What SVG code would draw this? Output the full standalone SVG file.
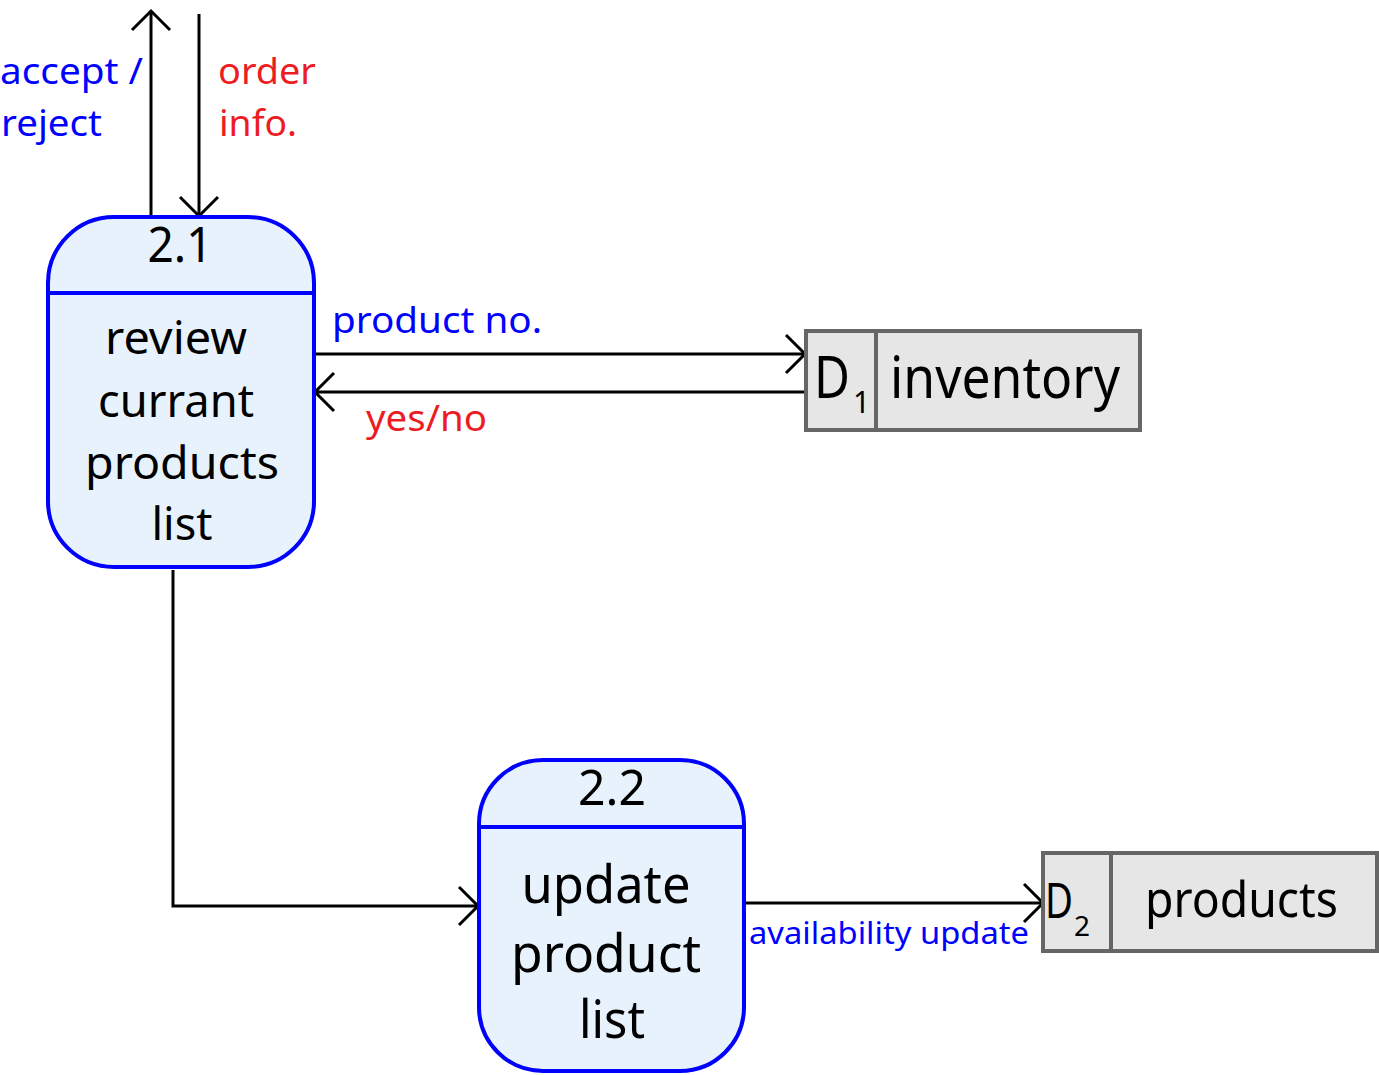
<svg xmlns="http://www.w3.org/2000/svg" width="1379" height="1075" viewBox="0 0 1379 1075">
<style>
text{font-family:"Noto Sans","Open Sans","Liberation Sans",sans-serif;}
.proc{fill:#e8f2fd;stroke:#0000ff;stroke-width:4;}
.div{stroke:#0000ff;stroke-width:4;}
.store{fill:#e6e6e6;stroke:#666666;stroke-width:4;}
.flow{fill:none;stroke:#000;stroke-width:3;}
.blue{fill:#0000ff;}
.red{fill:#ed1c24;}
.nt{fill:#000;}
</style>
<defs>
<marker id="arr" markerUnits="userSpaceOnUse" markerWidth="26" markerHeight="44" viewBox="-22 -22 26 44" refX="0" refY="0" orient="auto" overflow="visible">
<path d="M-19,-19 L0,0 L-19,19" fill="none" stroke="#000" stroke-width="3"/>
</marker>
</defs>
<rect width="1379" height="1075" fill="#fff"/>
<g id="connectors">
<line class="flow" x1="151" y1="217" x2="151" y2="11" marker-end="url(#arr)"/>
<line class="flow" x1="199" y1="14" x2="199" y2="216" marker-end="url(#arr)"/>
<line class="flow" x1="314" y1="354" x2="805" y2="354" marker-end="url(#arr)"/>
<line class="flow" x1="806" y1="392" x2="315" y2="392" marker-end="url(#arr)"/>
<polyline class="flow" points="173,570 173,906 478,906" marker-end="url(#arr)"/>
<line class="flow" x1="744" y1="903" x2="1043" y2="903" marker-end="url(#arr)"/>
<text class="blue" x="0" y="84" font-size="36" textLength="143" lengthAdjust="spacingAndGlyphs">accept /</text>
<text class="blue" x="1" y="136" font-size="36" textLength="101" lengthAdjust="spacingAndGlyphs">reject</text>
<text class="red" x="218" y="84" font-size="36" textLength="98" lengthAdjust="spacingAndGlyphs">order</text>
<text class="red" x="219" y="136" font-size="36" textLength="78" lengthAdjust="spacingAndGlyphs">info.</text>
<text class="blue" x="332" y="333" font-size="36" textLength="210" lengthAdjust="spacingAndGlyphs">product no.</text>
<text class="red" x="366" y="431" font-size="36" textLength="121" lengthAdjust="spacingAndGlyphs">yes/no</text>
<text class="blue" x="749" y="944" font-size="31" textLength="280" lengthAdjust="spacingAndGlyphs">availability update</text>
</g>
<g id="p21">
<rect class="proc" x="48" y="217" width="266" height="350" rx="66" ry="66"/>
<line class="div" x1="48" y1="293" x2="314" y2="293"/>
<text class="nt" x="180" y="262" font-size="50" text-anchor="middle" textLength="65" lengthAdjust="spacingAndGlyphs">2.1</text>
<text class="nt" x="176" y="354" font-size="46" text-anchor="middle" textLength="142" lengthAdjust="spacingAndGlyphs">review</text>
<text class="nt" x="176" y="417" font-size="46" text-anchor="middle" textLength="156" lengthAdjust="spacingAndGlyphs">currant</text>
<text class="nt" x="182" y="479" font-size="46" text-anchor="middle" textLength="194" lengthAdjust="spacingAndGlyphs">products</text>
<text class="nt" x="182" y="540" font-size="46" text-anchor="middle" textLength="61" lengthAdjust="spacingAndGlyphs">list</text>
</g>
<g id="p22">
<rect class="proc" x="479" y="760" width="265" height="311" rx="64" ry="64"/>
<line class="div" x1="479" y1="827" x2="744" y2="827"/>
<text class="nt" x="612" y="805" font-size="50" text-anchor="middle" textLength="68" lengthAdjust="spacingAndGlyphs">2.2</text>
<text class="nt" x="606" y="903" font-size="52" text-anchor="middle" textLength="169" lengthAdjust="spacingAndGlyphs">update</text>
<text class="nt" x="606" y="972" font-size="52" text-anchor="middle" textLength="190" lengthAdjust="spacingAndGlyphs">product</text>
<text class="nt" x="612" y="1038" font-size="52" text-anchor="middle" textLength="66" lengthAdjust="spacingAndGlyphs">list</text>
</g>
<g id="d1">
<rect class="store" x="806" y="331" width="334" height="99"/>
<line class="store" x1="876" y1="331" x2="876" y2="430"/>
<text class="nt" x="814" y="398" font-size="58"><tspan textLength="36" lengthAdjust="spacingAndGlyphs">D</tspan><tspan x="853" y="413" font-size="30">1</tspan></text>
<text class="nt" x="890" y="398" font-size="58" textLength="230" lengthAdjust="spacingAndGlyphs">inventory</text>
</g>
<g id="d2">
<rect class="store" x="1043" y="853" width="334" height="98"/>
<line class="store" x1="1111" y1="853" x2="1111" y2="951"/>
<text class="nt" x="1045" y="918" font-size="50"><tspan textLength="28" lengthAdjust="spacingAndGlyphs">D</tspan><tspan x="1074" y="936" font-size="28">2</tspan></text>
<text class="nt" x="1145" y="917" font-size="50" textLength="193" lengthAdjust="spacingAndGlyphs">products</text>
</g>
</svg>
